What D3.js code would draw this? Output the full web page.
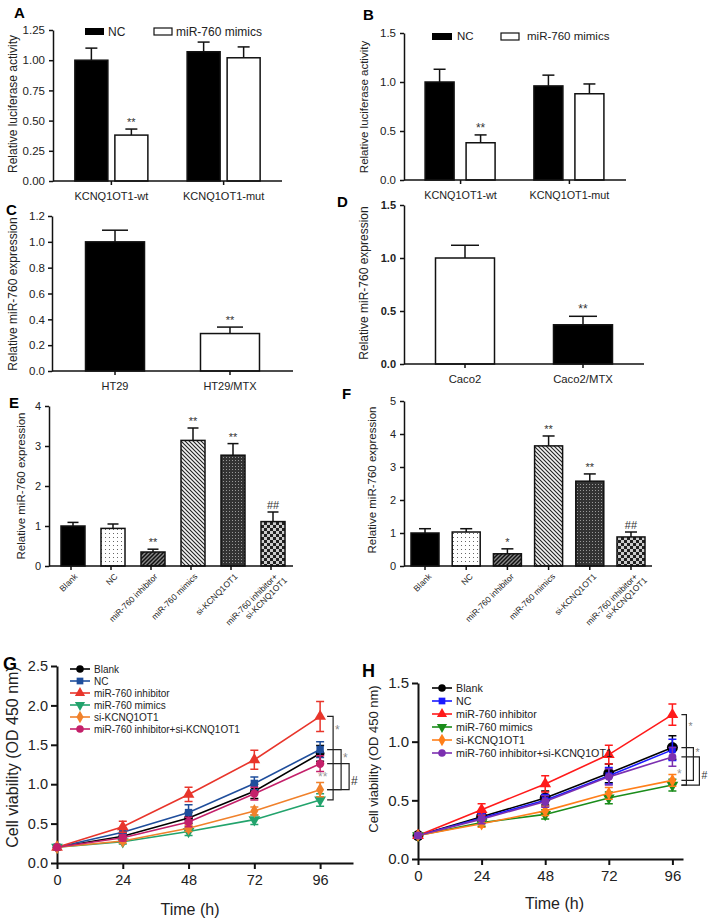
<!DOCTYPE html>
<html><head><meta charset="utf-8">
<script src="https://cdn.jsdelivr.net/npm/d3@7"></script>
<style>body{margin:0;background:#fff}svg{display:block;font-family:"Liberation Sans",Arial,sans-serif}</style>
</head><body><svg id="c" width="709" height="920"></svg>
<script>
// ---------------- DATA ----------------
const luciferaseGroups = ["KCNQ1OT1-wt", "KCNQ1OT1-mut"];
const luciferaseSeries = ["NC", "miR-760 mimics"];
const aNC = [1.00, 1.07], aNCErr = [0.10, 0.08];
const aMimics = [0.38, 1.02], aMimicsErr = [0.05, 0.09], aMimicsSig = ["**", ""];
const aTicks = [0, 0.25, 0.50, 0.75, 1.00, 1.25];
const bNC = [1.00, 0.96], bNCErr = [0.13, 0.11];
const bMimics = [0.38, 0.88], bMimicsErr = [0.08, 0.10], bMimicsSig = ["**", ""];
const bTicks = [0, 0.5, 1.0, 1.5];
const cGroups = ["HT29", "HT29/MTX"];
const cValues = [1.00, 0.29], cErr = [0.09, 0.05], cSig = ["", "**"];
const cTicks = [0, 0.2, 0.4, 0.6, 0.8, 1.0, 1.2];
const dGroups = ["Caco2", "Caco2/MTX"];
const dValues = [1.00, 0.37], dErr = [0.12, 0.08], dSig = ["", "**"];
const dTicks = [0, 0.5, 1.0, 1.5];
const efGroups = ["Blank", "NC", "miR-760 inhibitor", "miR-760 mimics", "si-KCNQ1OT1", "miR-760 inhibitor+|si-KCNQ1OT1"];
const eValues = [1.00, 0.94, 0.35, 3.14, 2.77, 1.11];
const eErr = [0.09, 0.11, 0.07, 0.31, 0.29, 0.24];
const eSig = ["", "", "**", "**", "**", "##"];
const eTicks = [0, 1, 2, 3, 4];
const fValues = [1.00, 1.03, 0.37, 3.64, 2.57, 0.88];
const fErr = [0.13, 0.10, 0.15, 0.30, 0.22, 0.15];
const fSig = ["", "", "*", "**", "**", "##"];
const fTicks = [0, 1, 2, 3, 4, 5];
const hours = [0, 24, 48, 72, 96];
const viabilitySeries = ["Blank", "NC", "miR-760 inhibitor", "miR-760 mimics", "si-KCNQ1OT1", "miR-760 inhibitor+si-KCNQ1OT1"];
const gBlank = [0.20, 0.34, 0.57, 0.91, 1.39], gBlankErr = [0.02, 0.04, 0.07, 0.09, 0.10];
const gNC = [0.20, 0.39, 0.64, 1.01, 1.44], gNCErr = [0.02, 0.05, 0.10, 0.08, 0.10];
const gInhibitor = [0.20, 0.46, 0.87, 1.31, 1.86], gInhibitorErr = [0.02, 0.07, 0.09, 0.12, 0.19];
const gMimics = [0.20, 0.27, 0.40, 0.55, 0.80], gMimicsErr = [0.02, 0.03, 0.05, 0.06, 0.08];
const gSi = [0.20, 0.28, 0.44, 0.66, 0.93], gSiErr = [0.02, 0.03, 0.04, 0.05, 0.09];
const gCombo = [0.20, 0.32, 0.52, 0.88, 1.26], gComboErr = [0.02, 0.04, 0.06, 0.08, 0.10];
const gTicks = [0, 0.5, 1.0, 1.5, 2.0, 2.5];
const hBlank = [0.20, 0.36, 0.52, 0.73, 0.95], hBlankErr = [0.02, 0.04, 0.06, 0.08, 0.10];
const hNC = [0.20, 0.35, 0.50, 0.71, 0.93], hNCErr = [0.02, 0.04, 0.05, 0.07, 0.09];
const hInhibitor = [0.20, 0.42, 0.64, 0.89, 1.23], hInhibitorErr = [0.02, 0.05, 0.07, 0.08, 0.09];
const hMimics = [0.20, 0.31, 0.38, 0.52, 0.63], hMimicsErr = [0.02, 0.03, 0.04, 0.05, 0.05];
const hSi = [0.20, 0.30, 0.41, 0.56, 0.67], hSiErr = [0.02, 0.03, 0.04, 0.05, 0.05];
const hCombo = [0.20, 0.34, 0.49, 0.70, 0.87], hComboErr = [0.02, 0.04, 0.05, 0.07, 0.08];
const hTicks = [0, 0.5, 1.0, 1.5];
// brackets: [upper series index, lower series index, label]
const gBrackets = [[2, 3, "*"], [1, 4, "*"], [5, 4, "#"]];
const hBrackets = [[2, 3, "*"], [0, 4, "*"], [5, 3, "#"]];

// ---------------- DRAWING ----------------
const svg = d3.select("#c");
const defs = svg.append("defs");
function pattern(id, w, h, draw) {
  const p = defs.append("pattern").attr("id", id).attr("patternUnits", "userSpaceOnUse").attr("width", w).attr("height", h);
  draw(p);
}
pattern("dots", 4, 4, p => {
  p.append("rect").attr("width", 4).attr("height", 4).attr("fill", "#fff");
  p.append("rect").attr("x", 1).attr("y", 1).attr("width", 1).attr("height", 1).attr("fill", "#666");
});
pattern("diagDark", 4, 4, p => {
  p.append("rect").attr("width", 4).attr("height", 4).attr("fill", "#888");
  p.append("path").attr("d", "M-1,1 l2,-2 M0,4 l4,-4 M3,5 l2,-2").attr("stroke", "#111").attr("stroke-width", 1.5);
});
pattern("diagLight", 4, 4, p => {
  p.append("rect").attr("width", 4).attr("height", 4).attr("fill", "#f2f2f2");
  p.append("path").attr("d", "M-1,3 l2,2 M0,0 l4,4 M3,-1 l2,2").attr("stroke", "#222").attr("stroke-width", 1.1);
});
pattern("cross", 3, 3, p => {
  p.append("rect").attr("width", 3).attr("height", 3).attr("fill", "#333");
  p.append("rect").attr("x", 1).attr("y", 1).attr("width", 1).attr("height", 1).attr("fill", "#999");
});
pattern("checker", 6, 6, p => {
  p.append("rect").attr("width", 6).attr("height", 6).attr("fill", "#ccc");
  p.append("rect").attr("width", 3).attr("height", 3).attr("fill", "#222");
  p.append("rect").attr("x", 3).attr("y", 3).attr("width", 3).attr("height", 3).attr("fill", "#222");
});

function panelLabel(t, x, y, size) {
  svg.append("text").attr("x", x).attr("y", y).attr("font-size", size).attr("font-weight", "bold").text(t);
}
function yTitle(t, x, y, size) {
  svg.append("text").attr("transform", `translate(${x},${y}) rotate(-90)`).attr("text-anchor", "middle")
    .attr("dominant-baseline", "central").attr("font-size", size).attr("fill", "#222").text(t);
}
function styleAxis(g, fs, sw, bold) {
  g.select(".domain").attr("stroke-width", sw).attr("stroke", "#111");
  g.selectAll(".tick line").attr("stroke-width", sw).attr("stroke", "#111");
  g.selectAll(".tick text").attr("font-size", fs).attr("fill", "#222").attr("font-family", '"Liberation Sans",Arial,sans-serif')
    .attr("font-weight", bold ? "bold" : "normal");
}

// generic bar panel
function barPanel(o) {
  const y = d3.scaleLinear().domain([0, o.ymax]).range([o.bottom, o.top]);
  const x = d3.scalePoint().domain(o.groups).range([o.left, o.right]).padding(o.pad);
  const ga = svg.append("g").attr("transform", `translate(${o.left},0)`)
    .call(d3.axisLeft(y).tickValues(o.ticks).tickFormat(d3.format(o.fmt)).tickSize(4).tickPadding(o.tp || 4).tickSizeOuter(0));
  styleAxis(ga, o.tickFs, 1.5, o.bold);
  o.series.forEach((s, si) => {
    const off = o.offsets[si];
    o.groups.forEach((g, i) => {
      const cx = x(g) + off;
      const fill = Array.isArray(s.fill) ? s.fill[i] : s.fill;
      const top = y(s.vals[i]), capY = y(s.vals[i] + s.errs[i]);
      svg.append("line").attr("x1", cx).attr("x2", cx).attr("y1", top).attr("y2", capY).attr("stroke", "#111").attr("stroke-width", 1.5);
      svg.append("line").attr("x1", cx - o.cap / 2).attr("x2", cx + o.cap / 2).attr("y1", capY).attr("y2", capY).attr("stroke", "#111").attr("stroke-width", 1.5);
      svg.append("rect").attr("x", cx - o.bw / 2).attr("y", top).attr("width", o.bw).attr("height", o.bottom - top)
        .attr("fill", fill).attr("stroke", "#111").attr("stroke-width", 1.5);
      if (s.sig && s.sig[i]) {
        svg.append("text").attr("x", cx).attr("y", capY - 3).attr("text-anchor", "middle").attr("font-size", o.sigFs || 11)
          .attr("fill", "#333").text(s.sig[i]);
      }
    });
  });
  svg.append("line").attr("x1", o.left).attr("x2", o.right).attr("y1", o.bottom).attr("y2", o.bottom).attr("stroke", "#111").attr("stroke-width", 1.5);
  o.groups.forEach(g => {
    svg.append("line").attr("x1", x(g)).attr("x2", x(g)).attr("y1", o.bottom).attr("y2", o.bottom + 4).attr("stroke", "#111").attr("stroke-width", 1.5);
    if (o.rotate) {
      const lines = g.split("|");
      const t = svg.append("text").attr("transform", `translate(${x(g) + 5},${o.bottom + 9}) rotate(-45)`)
        .attr("text-anchor", "end").attr("font-size", o.xFs).attr("fill", "#222");
      lines.forEach((l, k) => t.append("tspan").attr("x", k * 4).attr("dy", k === 0 ? "0.35em" : "1.1em").text(l));
    } else {
      svg.append("text").attr("x", x(g)).attr("y", o.bottom + 19).attr("text-anchor", "middle").attr("font-size", o.xFs).attr("fill", "#222").text(g);
    }
  });
  return { x, y };
}

// Panel A
barPanel({ groups: luciferaseGroups, ymax: 1.25, ticks: aTicks, fmt: ".2f", left: 53, right: 282, top: 30, bottom: 181, pad: 0.52,
  tickFs: 11.5, xFs: 11, bw: 33, cap: 12, offsets: [-20, 20],
  series: [{ vals: aNC, errs: aNCErr, fill: "#000" }, { vals: aMimics, errs: aMimicsErr, fill: "#fff", sig: aMimicsSig }] });
panelLabel("A", 14, 18, 15);
yTitle("Relative luciferase activity", 13, 104, 12);
svg.append("rect").attr("x", 85).attr("y", 28).attr("width", 19).attr("height", 7).attr("fill", "#000");
svg.append("text").attr("x", 108).attr("y", 35.5).attr("font-size", 12).attr("fill", "#222").text(luciferaseSeries[0]);
svg.append("rect").attr("x", 154).attr("y", 28).attr("width", 18).attr("height", 7).attr("fill", "#fff").attr("stroke", "#111").attr("stroke-width", 1.2);
svg.append("text").attr("x", 176).attr("y", 35.5).attr("font-size", 12).attr("fill", "#222").text(luciferaseSeries[1]);

// Panel B
barPanel({ groups: luciferaseGroups, ymax: 1.5, ticks: bTicks, fmt: ".1f", left: 404, right: 626, top: 33, bottom: 180, pad: 0.52,
  tickFs: 11.5, xFs: 10.8, bw: 29, cap: 12, offsets: [-21, 20], sigFs: 12,
  series: [{ vals: bNC, errs: bNCErr, fill: "#000" }, { vals: bMimics, errs: bMimicsErr, fill: "#fff", sig: bMimicsSig }] });
panelLabel("B", 363, 20, 15);
yTitle("Relative luciferase activity", 364, 107, 11.5);
svg.append("rect").attr("x", 432).attr("y", 33).attr("width", 20).attr("height", 7).attr("fill", "#000");
svg.append("text").attr("x", 457).attr("y", 40).attr("font-size", 11.5).attr("fill", "#222").text(luciferaseSeries[0]);
svg.append("rect").attr("x", 501).attr("y", 33).attr("width", 18).attr("height", 7).attr("fill", "#fff").attr("stroke", "#111").attr("stroke-width", 1.2);
svg.append("text").attr("x", 527).attr("y", 40).attr("font-size", 11.5).attr("fill", "#222").text(luciferaseSeries[1]);

// Panel C
barPanel({ groups: cGroups, ymax: 1.2, ticks: cTicks, fmt: ".1f", left: 52, right: 293, top: 216, bottom: 371, pad: 0.548,
  tickFs: 11.5, xFs: 11, bw: 59, cap: 26, offsets: [0], tp: 3,
  series: [{ vals: cValues, errs: cErr, fill: ["#000", "#fff"], sig: cSig }] });
panelLabel("C", 6, 215, 15);
yTitle("Relative miR-760 expression", 13, 294, 12);

// Panel D
barPanel({ groups: dGroups, ymax: 1.5, ticks: dTicks, fmt: ".1f", left: 404, right: 644, top: 205, bottom: 364, pad: 0.517,
  tickFs: 11, xFs: 11.3, bw: 59, cap: 28, offsets: [0], bold: true, sigFs: 12,
  series: [{ vals: dValues, errs: dErr, fill: ["#fff", "#000"], sig: dSig }] });
panelLabel("D", 337, 207, 15);
yTitle("Relative miR-760 expression", 364, 283, 12);

const efFills = ["#000", "url(#dots)", "url(#diagDark)", "url(#diagLight)", "url(#cross)", "url(#checker)"];
// Panel E
barPanel({ groups: efGroups, ymax: 4, ticks: eTicks, fmt: "d", left: 49, right: 293, top: 406, bottom: 566, pad: 0.55,
  tickFs: 11, xFs: 8.5, bw: 24, cap: 11, offsets: [2], rotate: true,
  series: [{ vals: eValues, errs: eErr, fill: efFills, sig: eSig }] });
panelLabel("E", 9, 408, 15);
yTitle("Relative miR-760 expression", 21, 486, 11.5);

// Panel F
barPanel({ groups: efGroups, ymax: 5, ticks: fTicks, fmt: "d", left: 404, right: 652, top: 401, bottom: 566, pad: 0.51,
  tickFs: 11, xFs: 8.5, bw: 28, cap: 12, offsets: [0], rotate: true,
  series: [{ vals: fValues, errs: fErr, fill: efFills, sig: fSig }] });
panelLabel("F", 342, 399, 15);
yTitle("Relative miR-760 expression", 372, 480, 11.5);

// Line panels
const symbolTypes = [d3.symbolCircle, d3.symbolSquare, d3.symbolTriangle, d3.symbolTriangle, d3.symbolDiamond, d3.symbolCircle];
const symbolRot = [0, 0, 0, 180, 0, 0];
function linePanel(o) {
  const x = d3.scaleLinear().domain([0, o.xmax]).range([o.left, o.right]);
  const y = d3.scaleLinear().domain([0, o.ymax]).range([o.bottom, o.top]);
  const ga = svg.append("g").attr("transform", `translate(${o.left},0)`)
    .call(d3.axisLeft(y).tickValues(o.yticks).tickFormat(d3.format(".1f")).tickSize(6).tickPadding(3).tickSizeOuter(0));
  styleAxis(ga, o.tickFs, 2);
  const gx = svg.append("g").attr("transform", `translate(0,${o.bottom})`)
    .call(d3.axisBottom(x).tickValues(hours).tickFormat(d3.format("d")).tickSize(6).tickPadding(o.xtp).tickSizeOuter(0));
  styleAxis(gx, o.tickFs, 2);
  svg.append("text").attr("x", (o.left + o.right) / 2 + o.tdx).attr("y", o.timeY).attr("text-anchor", "middle").attr("font-size", o.titleFs).attr("fill", "#222").text("Time (h)");
  const line = d3.line().x((d, i) => x(hours[i])).y(d => y(d));
  o.series.forEach((s, si) => {
    const gS = svg.append("g");
    gS.append("path").attr("d", line(s.vals)).attr("fill", "none").attr("stroke", s.color).attr("stroke-width", 1.6);
    s.vals.forEach((v, i) => {
      const cx = x(hours[i]), e = s.errs[i];
      gS.append("path").attr("d", `M${cx},${y(v - e)}V${y(v + e)}M${cx - 4},${y(v + e)}H${cx + 4}M${cx - 4},${y(v - e)}H${cx + 4}`)
        .attr("stroke", s.color).attr("stroke-width", 1.5).attr("fill", "none");
      gS.append("path").attr("d", d3.symbol(symbolTypes[si], o.symSize[si])())
        .attr("transform", `translate(${cx},${y(v)}) rotate(${symbolRot[si]})`).attr("fill", s.color);
    });
    const ly = o.legY + si * o.legDy;
    svg.append("line").attr("x1", o.legX).attr("x2", o.legX + 20).attr("y1", ly).attr("y2", ly).attr("stroke", s.color).attr("stroke-width", 1.6);
    svg.append("path").attr("d", d3.symbol(symbolTypes[si], o.legSym)()).attr("transform", `translate(${o.legX + 10},${ly}) rotate(${symbolRot[si]})`).attr("fill", s.color);
    svg.append("text").attr("x", o.legX + 24).attr("y", ly).attr("dominant-baseline", "central").attr("font-size", o.legFs).attr("fill", "#222").text(viabilitySeries[si]);
  });
  const x96 = x(96);
  o.brackets.forEach((b, k) => {
    const y1 = y(o.series[b[0]].vals[4]), y2 = y(o.series[b[1]].vals[4]);
    const bx = x96 + o.bOff[k];
    svg.append("path").attr("d", `M${x96 + o.bStart},${y1}H${bx}V${y2}H${x96 + o.bStart}`).attr("fill", "none").attr("stroke", "#222").attr("stroke-width", 1.2);
    svg.append("text").attr("x", bx + 2).attr("y", (y1 + y2) / 2 + o.labDy[k]).attr("font-size", o.bFs).attr("fill", b[2] === "#" ? "#333" : "#888").text(b[2]);
  });
  svg.append("text").attr("x", o.extra[0]).attr("y", o.extra[1]).attr("font-size", 12).attr("fill", "#999").text(o.extra[2]);
}

linePanel({ left: 57, right: 353, xmax: 108, top: 666, bottom: 863, ymax: 2.5, yticks: gTicks, tickFs: 14.5, xtp: 6,
  titleFs: 16, timeY: 915, tdx: -15, symSize: [60, 55, 60, 60, 55, 55], legSym: 45, legX: 70, legY: 669, legDy: 12, legFs: 10,
  brackets: gBrackets, bStart: 7, bOff: [13, 21, 29], labDy: [-24, -8, 8], bFs: 12, extra: [318, 781, "**"],
  series: [
    { vals: gBlank, errs: gBlankErr, color: "#000" },
    { vals: gNC, errs: gNCErr, color: "#1f4e9c" },
    { vals: gInhibitor, errs: gInhibitorErr, color: "#e8352b" },
    { vals: gMimics, errs: gMimicsErr, color: "#22a36c" },
    { vals: gSi, errs: gSiErr, color: "#f0812b" },
    { vals: gCombo, errs: gComboErr, color: "#c4206a" }] });
panelLabel("G", 3, 670, 18);
yTitle("Cell viability (OD 450 nm)", 12, 757, 16);

linePanel({ left: 418, right: 683, xmax: 100, top: 683, bottom: 859, ymax: 1.5, yticks: hTicks, tickFs: 15, xtp: 5,
  titleFs: 16, timeY: 909, tdx: 4, symSize: [95, 45, 60, 60, 50, 50], legSym: 45, legX: 432, legY: 688, legDy: 13, legFs: 10.7,
  brackets: hBrackets, bStart: 9, bOff: [14, 21, 27], labDy: [-20, -8, 8], bFs: 10.5, extra: [677, 778, "*"],
  series: [
    { vals: hBlank, errs: hBlankErr, color: "#000" },
    { vals: hNC, errs: hNCErr, color: "#1a1aff" },
    { vals: hInhibitor, errs: hInhibitorErr, color: "#ff1a1a" },
    { vals: hMimics, errs: hMimicsErr, color: "#1a8c1a" },
    { vals: hSi, errs: hSiErr, color: "#ff7f1a" },
    { vals: hCombo, errs: hComboErr, color: "#7b2fb0" }] });
panelLabel("H", 362, 677, 18);
yTitle("Cell viability (OD 450 nm)", 373, 759, 13);
</script></body></html>
